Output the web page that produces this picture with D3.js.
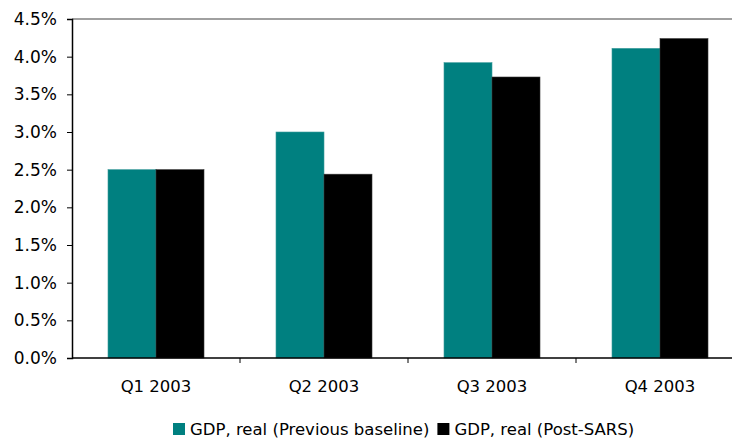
<!DOCTYPE html>
<html>
<head>
<meta charset="utf-8">
<script src="https://cdn.jsdelivr.net/npm/d3@7"></script>
<style>
  html, body { margin: 0; padding: 0; background: #fff; }
  svg { display: block; font-family: "DejaVu Sans", Verdana, sans-serif; }
</style>
</head>
<body>
<svg id="chart" width="732" height="438"></svg>
<script>
// chart data
const quarters = ['Q1 2003', 'Q2 2003', 'Q3 2003', 'Q4 2003'];
const seriesNames = ['GDP, real (Previous baseline)', 'GDP, real (Post-SARS)'];
const previousBaseline = [2.5, 3.0, 3.92, 4.11];
const postSars = [2.5, 2.44, 3.73, 4.24];
const yTicks = [0, 0.5, 1.0, 1.5, 2.0, 2.5, 3.0, 3.5, 4.0, 4.5];
const colors = ['#008080', '#000000'];

const svg = d3.select('#chart');

const plotLeft = 72, plotRight = 744, plotTop = 19, plotBottom = 358;

// x scales: one band per quarter, then one sub band per series
const x = d3.scaleBand()
  .domain(quarters)
  .range([plotLeft, plotRight])
  .paddingInner(0.4286)
  .paddingOuter(0.2143);

const xSub = d3.scaleBand()
  .domain(seriesNames)
  .range([0, x.bandwidth()]);

const y = d3.scaleLinear()
  .domain([0, 4.5])
  .range([plotBottom, plotTop]);

// top border line (gray)
svg.append('line')
  .attr('x1', plotLeft).attr('x2', 732)
  .attr('y1', y(4.5)).attr('y2', y(4.5))
  .attr('stroke', '#808080')
  .attr('stroke-width', 1.5);

// bars
const rows = quarters.map((q, i) => ({ q, values: [previousBaseline[i], postSars[i]] }));

const groups = svg.selectAll('g.quarter')
  .data(rows)
  .enter()
  .append('g')
  .attr('class', 'quarter')
  .attr('transform', d => `translate(${x(d.q)},0)`);

groups.selectAll('rect')
  .data(d => d.values.map((v, j) => ({ name: seriesNames[j], v, j })))
  .enter()
  .append('rect')
  .attr('x', d => xSub(d.name))
  .attr('y', d => y(d.v))
  .attr('width', xSub.bandwidth())
  .attr('height', d => y(0) - y(d.v))
  .attr('fill', d => colors[d.j])
  .attr('stroke', d => d.j === 0 ? '#3a9a9a' : '#333')
  .attr('stroke-width', 0.6);

// y axis
const yAxis = d3.axisLeft(y)
  .tickValues(yTicks)
  .tickFormat(d => d.toFixed(1) + '%')
  .tickSize(5)
  .tickPadding(10);

const yg = svg.append('g')
  .attr('transform', `translate(${plotLeft},0)`)
  .call(yAxis);
yg.select('.domain').attr('stroke', '#000').attr('stroke-width', 1.5);
yg.selectAll('.tick line').attr('stroke', '#000');
yg.selectAll('.tick text')
  .attr('font-size', '17px')
  .attr('font-family', '"DejaVu Sans", Verdana, sans-serif')
  .attr('fill', '#000');

// x axis: ticks at category boundaries
const xg = svg.append('g')
  .attr('transform', `translate(0,${plotBottom})`);
xg.append('line')
  .attr('x1', plotLeft).attr('x2', 732)
  .attr('y1', 0).attr('y2', 0)
  .attr('stroke', '#000')
  .attr('stroke-width', 1.5);

const step = x.step();
const boundaries = quarters.map((q, i) => plotLeft + step * (i + 1));
xg.selectAll('line.tick')
  .data(boundaries)
  .enter()
  .append('line')
  .attr('class', 'tick')
  .attr('x1', d => d).attr('x2', d => d)
  .attr('y1', 0).attr('y2', 5)
  .attr('stroke', '#000');

xg.selectAll('text')
  .data(quarters)
  .enter()
  .append('text')
  .attr('x', d => x(d) + x.bandwidth() / 2)
  .attr('y', 34)
  .attr('text-anchor', 'middle')
  .attr('font-size', '16.5px')
  .attr('fill', '#000')
  .text(d => d);

// legend
const legend = svg.append('g').attr('transform', 'translate(173,423)');
let lx = 0;
seriesNames.forEach((name, i) => {
  const item = legend.append('g').attr('transform', `translate(${lx},0)`);
  item.append('rect')
    .attr('x', 0).attr('y', 0)
    .attr('width', 12).attr('height', 12)
    .attr('fill', colors[i]);
  const t = item.append('text')
    .attr('x', 17)
    .attr('y', 12)
    .attr('font-size', '16.5px')
    .attr('fill', '#000')
    .text(name);
  lx += 17 + t.node().getComputedTextLength() + 8;
});
</script>
</body>
</html>
